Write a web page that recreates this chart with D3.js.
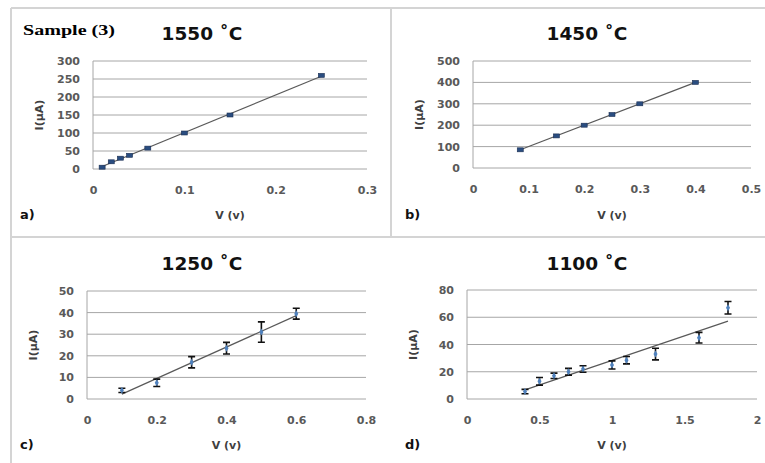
<!DOCTYPE html>
<html>
<head>
<meta charset="utf-8">
<title>I-V curves, Sample (3)</title>
<script src="https://d3js.org/d3.v7.min.js"></script>
<style>
  body { margin: 0; background: #fff; }
  .grid line { stroke: #a6a6a6; stroke-width: 1; }
  .tick text { font-family: "DejaVu Sans", Verdana, sans-serif; font-weight: bold; font-size: 11px; fill: #595959; }
  .ttl { font-family: "DejaVu Sans", Verdana, sans-serif; font-weight: bold; font-size: 18.5px; fill: #111; }
  .lab { font-family: "DejaVu Sans", Verdana, sans-serif; font-weight: bold; font-size: 11px; fill: #404040; }
  .tag { font-family: "DejaVu Sans", Verdana, sans-serif; font-weight: bold; font-size: 13px; fill: #111; }
</style>
</head>
<body>
<svg width="765" height="463"></svg>
<script>
// a) 1550 C
var aV = [0.01, 0.02, 0.03, 0.04, 0.06, 0.1, 0.15, 0.25];
var aI = [5, 20, 30, 38, 58, 100, 150, 260];
var aErr = [0, 0, 0, 0, 0, 0, 0, 0];
var aTicksX = [0, 0.1, 0.2, 0.3];
var aTicksY = [0, 50, 100, 150, 200, 250, 300];

// b) 1450 C
var bV = [0.085, 0.15, 0.2, 0.25, 0.3, 0.4];
var bI = [85, 150, 200, 250, 300, 400];
var bErr = [0, 0, 0, 0, 0, 0];
var bTicksX = [0, 0.1, 0.2, 0.3, 0.4, 0.5];
var bTicksY = [0, 100, 200, 300, 400, 500];

// c) 1250 C
var cV = [0.1, 0.2, 0.3, 0.4, 0.5, 0.6];
var cI = [4, 7.5, 17, 23.5, 31, 39.5];
var cErr = [1, 1.7, 2.6, 2.7, 4.7, 2.5];
var cTicksX = [0, 0.2, 0.4, 0.6, 0.8];
var cTicksY = [0, 10, 20, 30, 40, 50];

// d) 1100 C
var dV = [0.4, 0.5, 0.6, 0.7, 0.8, 1.0, 1.1, 1.3, 1.6, 1.8];
var dI = [5.5, 13, 17, 20, 22, 25, 28.5, 33, 45, 67];
var dErr = [1.6, 2.8, 2, 2.5, 2.4, 3, 2.7, 4.3, 3.9, 4.6];
var dTicksX = [0, 0.5, 1, 1.5, 2];
var dTicksY = [0, 20, 40, 60, 80];

var titles = ["1550 \u02DAC", "1450 \u02DAC", "1250 \u02DAC", "1100 \u02DAC"];
var tags = ["a)", "b)", "c)", "d)"];

var panels = [
  { v: aV, i: aI, e: aErr, tx: aTicksX, ty: aTicksY, box: [93, 61, 367, 169], ox: 0, oy: 0, style: "sq" },
  { v: bV, i: bI, e: bErr, tx: bTicksX, ty: bTicksY, box: [473, 61, 751, 168], ox: 385, oy: 0, style: "sq" },
  { v: cV, i: cI, e: cErr, tx: cTicksX, ty: cTicksY, box: [87, 291, 366, 399], ox: 0, oy: 230, style: "err" },
  { v: dV, i: dI, e: dErr, tx: dTicksX, ty: dTicksY, box: [467, 290, 757, 399], ox: 385, oy: 230, style: "err" }
];

var svg = d3.select("svg");

// frame lines
var frame = svg.append("g").attr("stroke", "#d4d4d4").attr("stroke-width", 2);
frame.append("line").attr("x1", 11).attr("y1", 8).attr("x2", 765).attr("y2", 8);
frame.append("line").attr("x1", 11).attr("y1", 8).attr("x2", 11).attr("y2", 463);
frame.append("line").attr("x1", 391).attr("y1", 8).attr("x2", 391).attr("y2", 237);
frame.append("line").attr("x1", 11).attr("y1", 237).attr("x2", 765).attr("y2", 237);

svg.append("text")
  .attr("x", 23).attr("y", 35)
  .attr("textLength", 92).attr("lengthAdjust", "spacingAndGlyphs")
  .style("font-family", "'Liberation Serif', 'Times New Roman', serif")
  .style("font-weight", "bold").style("font-size", "15px")
  .text("Sample (3)");

panels.forEach(function (p, k) {
  var x = d3.scaleLinear().domain([p.tx[0], p.tx[p.tx.length - 1]]).range([p.box[0], p.box[2]]);
  var y = d3.scaleLinear().domain([p.ty[0], p.ty[p.ty.length - 1]]).range([p.box[3], p.box[1]]);
  var g = svg.append("g");

  // gridlines
  g.append("g").attr("class", "grid")
    .selectAll("line").data(p.ty).enter().append("line")
    .attr("x1", p.box[0]).attr("x2", p.box[2])
    .attr("y1", function (d) { return y(d); }).attr("y2", function (d) { return y(d); });
  g.append("line").attr("x1", p.box[0]).attr("x2", p.box[0])
    .attr("y1", p.box[1]).attr("y2", p.box[3]).attr("stroke", "#a6a6a6");

  // axes (labels only)
  var ya = g.append("g").attr("transform", "translate(" + (p.box[0] - 10) + ",0)")
    .call(d3.axisLeft(y).tickValues(p.ty).tickSize(0).tickFormat(d3.format("")));
  ya.select(".domain").remove();
  var xa = g.append("g").attr("transform", "translate(0," + (p.box[3] + 14) + ")")
    .call(d3.axisBottom(x).tickValues(p.tx).tickSize(0).tickFormat(function (d) { return String(d); }));
  xa.select(".domain").remove();

  // linear trend line over the data range
  var mx = d3.mean(p.v), my = d3.mean(p.i);
  var sxy = d3.sum(p.v, function (d, j) { return (d - mx) * (p.i[j] - my); });
  var sxx = d3.sum(p.v, function (d) { return (d - mx) * (d - mx); });
  var slope = sxy / sxx, icpt = my - slope * mx;
  var ext = d3.extent(p.v);
  g.append("path")
    .attr("d", d3.line()([[x(ext[0]), y(slope * ext[0] + icpt)], [x(ext[1]), y(slope * ext[1] + icpt)]]))
    .attr("stroke", "#595959").attr("stroke-width", 1.2).attr("fill", "none");

  var pts = p.v.map(function (d, j) { return { v: d, i: p.i[j], e: p.e[j] }; });
  if (p.style === "sq") {
    g.selectAll(".m").data(pts).enter().append("rect")
      .attr("x", function (d) { return x(d.v) - 3; })
      .attr("y", function (d) { return y(d.i) - 2; })
      .attr("width", 6).attr("height", 4)
      .attr("fill", "#2a4d80").attr("stroke", "#1b2f52").attr("stroke-width", 0.6);
  } else {
    var eb = g.selectAll(".eb").data(pts).enter().append("g");
    eb.append("path")
      .attr("d", function (d) {
        var cx = x(d.v), t = y(d.i + d.e), b = y(d.i - d.e);
        return "M" + (cx - 3.5) + "," + t + "H" + (cx + 3.5) +
               "M" + cx + "," + t + "V" + b +
               "M" + (cx - 3.5) + "," + b + "H" + (cx + 3.5);
      })
      .attr("stroke", "#111").attr("stroke-width", 1.6).attr("fill", "none");
    eb.append("path")
      .attr("d", d3.symbol().type(d3.symbolDiamond).size(14))
      .attr("transform", function (d) { return "translate(" + x(d.v) + "," + y(d.i) + ")"; })
      .attr("fill", "#4f81bd");
  }

  // texts
  var cx = (p.box[0] + p.box[2]) / 2;
  g.append("text").attr("class", "ttl").attr("text-anchor", "middle")
    .attr("x", p.ox + 202).attr("y", p.oy + 40).text(titles[k]);
  g.append("text").attr("class", "lab").attr("text-anchor", "middle")
    .attr("x", cx).attr("y", p.oy + 219).text("V (v)");
  g.append("text").attr("class", "lab").attr("text-anchor", "middle")
    .attr("transform", "translate(" + (p.box[0] - 50) + "," + ((p.box[1] + p.box[3]) / 2) + ") rotate(-90)")
    .text("I(\u03BCA)");
  g.append("text").attr("class", "tag")
    .attr("x", p.ox + 20).attr("y", p.oy + 219).text(tags[k]);
});
</script>
</body>
</html>
